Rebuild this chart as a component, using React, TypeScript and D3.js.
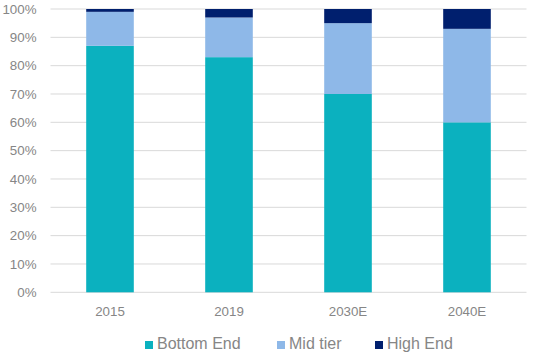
import React from "react";
import * as d3 from "d3";

const categories = ["2015", "2019", "2030E", "2040E"];
const seriesNames = ["Bottom End", "Mid tier", "High End"];
const bottomEnd = [87, 83, 70, 60];
const midTier = [12, 14, 25, 33];
const highEnd = [1, 3, 5, 7];
const yTicks = [0, 10, 20, 30, 40, 50, 60, 70, 80, 90, 100];
const colors = ["#0BB1BF", "#8EB8E8", "#001F6E"];

const W = 534;
const H = 357;
const left = 50.5;
const right = 526.5;
const top = 9;
const bottom = 292.3;
const font = "'Liberation Sans', Arial, sans-serif";
const textColor = "#868686";

export default function App() {
  const rows = categories.map((c, i) => ({
    cat: c,
    "Bottom End": bottomEnd[i],
    "Mid tier": midTier[i],
    "High End": highEnd[i],
  }));
  const stack = d3.stack<any>().keys(seriesNames)(rows);
  const x = d3.scaleBand().domain(categories).range([left, right]).paddingInner(0.6).paddingOuter(0.3);
  const y = d3.scaleLinear().domain([0, 100]).range([bottom, top]);

  const legendX = [145, 277, 375];

  return (
    <svg width={W} height={H} style={{ position: "absolute", left: 0, top: 0 }}>
      <rect width={W} height={H} fill="#fff" />
      {yTicks.map((t) => (
        <g key={t}>
          <line x1={left} x2={right} y1={y(t)} y2={y(t)} stroke="#D9D9D9" strokeWidth={1} />
          <text x={36.5} y={y(t)} dy="0.35em" textAnchor="end" fontFamily={font} fontSize={13.33} fill={textColor}>
            {t}%
          </text>
        </g>
      ))}
      {stack.map((s, si) => (
        <g key={s.key} fill={colors[si]}>
          {s.map((d, i) => (
            <rect
              key={i}
              x={x(categories[i])}
              width={x.bandwidth()}
              y={y(d[1])}
              height={y(d[0]) - y(d[1])}
            />
          ))}
        </g>
      ))}
      {categories.map((c) => (
        <text key={c} x={(x(c) as number) + x.bandwidth() / 2} y={316} textAnchor="middle" fontFamily={font} fontSize={13.33} fill={textColor}>
          {c}
        </text>
      ))}
      {seriesNames.map((n, i) => (
        <g key={n}>
          <rect x={legendX[i]} y={341} width={8} height={8} fill={colors[i]} />
          <text x={legendX[i] + 12} y={349} fontFamily={font} fontSize={16} fill={textColor}>
            {n}
          </text>
        </g>
      ))}
    </svg>
  );
}
